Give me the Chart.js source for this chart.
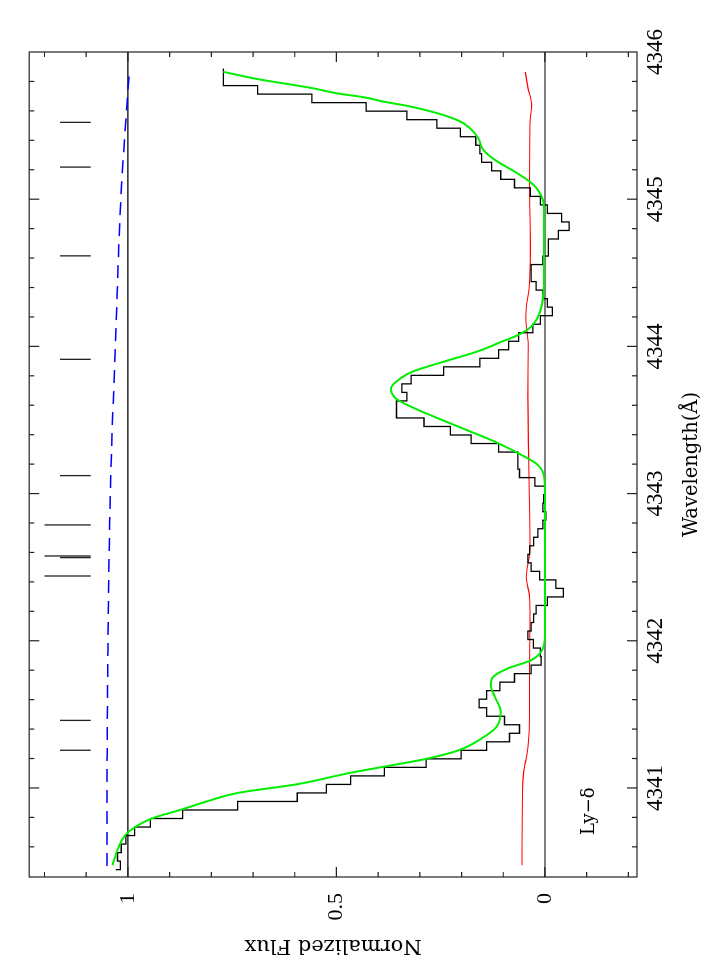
<!DOCTYPE html>
<html>
<head>
<meta charset="utf-8">
<script src="https://cdn.jsdelivr.net/npm/chart.js@4"></script>
<style>
html, body { margin: 0; padding: 0; overflow: hidden; background: #fff; width: 713px; height: 969px; }
#wrap { position: absolute; left: 0; top: 0; width: 969px; height: 713px; transform-origin: 0 0; transform: translateY(969px) rotate(-90deg); }
</style>
</head>
<body>
<div id="wrap"><canvas id="grafico" width="969" height="713"></canvas></div>
<script>
// eixos
const xMin = 4340.395, xMax = 4346.0;
const yMin = -0.2207, yMax = 1.2367;
const xLabels = [4341, 4342, 4343, 4344, 4345, 4346];
const yLabels = [0, 0.5, 1];
const xMarcas = [4340.6, 4340.8, 4341, 4341.2, 4341.4, 4341.6, 4341.8, 4342, 4342.2, 4342.4, 4342.6, 4342.8, 4343,
    4343.2, 4343.4, 4343.6, 4343.8, 4344, 4344.2, 4344.4, 4344.6, 4344.8, 4345, 4345.2, 4345.4, 4345.6, 4345.8];
const yMarcas = [-0.2, -0.1, 0, 0.1, 0.2, 0.3, 0.4, 0.5, 0.6, 0.7, 0.8, 0.9, 1, 1.1, 1.2];
const xMaiores = [4341, 4342, 4343, 4344, 4345];
const yMaiores = [0, 0.5, 1];

// espectro (pixels de 0.0579 A a partir de 4340.445)
const binInicio = 4340.445, binLargura = 0.0579;
const fluxo = [
    1.029, 1.018, 1.025, 1.016, 1.005, 0.984, 0.946, 0.869, 0.737, 0.594,
    0.524, 0.466, 0.385, 0.285, 0.201, 0.140, 0.085, 0.061, 0.097, 0.140,
    0.158, 0.140, 0.108, 0.073, 0.033, 0.009, 0.011, 0.028, 0.041, 0.033,
    0.027, 0.021, -0.006, -0.044, -0.026, 0.013, 0.033, 0.041, 0.037, 0.027,
    0.017, 0.005, -0.002, 0.005, 0.003, 0.000, 0.024, 0.061, 0.065, 0.065,
    0.111, 0.177, 0.227, 0.290, 0.356, 0.356, 0.331, 0.343, 0.321, 0.243,
    0.156, 0.111, 0.087, 0.063, 0.029, 0.011, -0.018, -0.006, 0.005, 0.021,
    0.033, 0.033, 0.005, -0.008, -0.008, -0.032, -0.058, -0.040, -0.006, 0.011,
    0.035, 0.073, 0.106, 0.128, 0.152, 0.156, 0.166, 0.203, 0.259, 0.331,
    0.429, 0.559, 0.689, 0.771
];

// ajuste (verde)
const ajusteWl = [4340.475, 4340.599, 4340.701, 4340.792, 4340.853, 4340.910, 4340.966, 4341.025, 4341.102, 4341.143,
    4341.197, 4341.256, 4341.336, 4341.415, 4341.517, 4341.619, 4341.698, 4341.755, 4341.812, 4341.868,
    4341.948, 4342.05, 4342.5, 4343.0, 4343.114, 4343.194, 4343.239, 4343.341, 4343.477, 4343.586,
    4343.647, 4343.715, 4343.783, 4343.828, 4343.896, 4343.971, 4344.032, 4344.07, 4344.112, 4344.15,
    4344.225, 4344.383, 4344.542, 4344.837, 4344.939, 4345.063, 4345.120, 4345.188, 4345.267, 4345.335,
    4345.415, 4345.483, 4345.528, 4345.585, 4345.634, 4345.664, 4345.69, 4345.72, 4345.755, 4345.816,
    4345.865];
const ajusteFluxo = [1.037, 1.022, 0.999, 0.943, 0.872, 0.809, 0.737, 0.595, 0.468, 0.389,
    0.286, 0.207, 0.152, 0.116, 0.106, 0.120, 0.130, 0.124, 0.089, 0.033,
    0.005, 0.000, 0.000, 0.000, 0.002, 0.017, 0.041, 0.111, 0.227, 0.318,
    0.358, 0.369, 0.346, 0.318, 0.243, 0.156, 0.104, 0.070, 0.043, 0.028,
    0.013, 0.003, 0.002, 0.002, 0.002, 0.017, 0.037, 0.073, 0.120, 0.148,
    0.160, 0.180, 0.203, 0.259, 0.330, 0.389, 0.429, 0.500, 0.559, 0.689,
    0.771];

// erro (vermelho)
const erroWl = [4340.475, 4341.052, 4341.143, 4341.2, 4341.3, 4341.483, 4341.82, 4342.14, 4342.298, 4342.434,
    4342.616, 4343.205, 4343.658, 4344.0, 4344.202, 4344.429, 4344.655, 4345.109, 4345.517, 4345.641,
    4345.76, 4345.865];
const erroFluxo = [0.055, 0.053, 0.049, 0.045, 0.040, 0.037, 0.037, 0.036, 0.037, 0.045,
    0.036, 0.039, 0.041, 0.040, 0.046, 0.037, 0.035, 0.037, 0.036, 0.032,
    0.041, 0.047];

// continuo (azul tracejado)
const continuoWl = [4340.47, 4341.0, 4341.94, 4342.6, 4343.32, 4344.0, 4345.0, 4345.86];
const continuoFluxo = [1.050, 1.050, 1.048, 1.045, 1.039, 1.030, 1.017, 0.997];

// componentes
const compWl = [4341.256, 4341.459, 4342.440, 4342.565, 4342.576, 4342.787, 4343.122, 4343.912, 4344.615, 4345.218, 4345.522];
const compTopo = [1.163, 1.163, 1.200, 1.163, 1.200, 1.200, 1.163, 1.163, 1.163, 1.163, 1.163];
const compBase = 1.089;

function pares(xs, ys) {
    return xs.map((v, i) => ({ x: v, y: ys[i] }));
}

const histPontos = fluxo.map((f, i) => ({ x: binInicio + i * binLargura, y: f }));
histPontos.push({ x: binInicio + fluxo.length * binLargura, y: fluxo[fluxo.length - 1] });

const compPontos = [];
compWl.forEach((w, i) => {
    compPontos.push({ x: w, y: compBase }, { x: w, y: compTopo[i] }, { x: w, y: null });
});

const marcasPlugin = {
    id: 'marcas',
    afterDatasetsDraw(chart) {
        const { ctx, chartArea: a, scales: { x, y } } = chart;
        ctx.save();
        ctx.strokeStyle = '#222';
        ctx.lineWidth = 1.2;
        ctx.strokeRect(a.left, a.top, a.right - a.left, a.bottom - a.top);
        ctx.beginPath();
        xMarcas.forEach(v => {
            const len = xMaiores.includes(v) ? 10 : 5;
            const px = x.getPixelForValue(v);
            ctx.moveTo(px, a.bottom); ctx.lineTo(px, a.bottom - len);
            ctx.moveTo(px, a.top); ctx.lineTo(px, a.top + len);
        });
        yMarcas.forEach(v => {
            const len = yMaiores.includes(v) ? 10 : 5;
            const py = y.getPixelForValue(v);
            ctx.moveTo(a.left, py); ctx.lineTo(a.left + len, py);
            ctx.moveTo(a.right, py); ctx.lineTo(a.right - len, py);
        });
        ctx.stroke();
        ctx.fillStyle = '#000';
        ctx.font = '18px "DejaVu Serif"';
        ctx.textBaseline = 'alphabetic';
        ctx.fillText('Ly\u2212\u03b4', x.getPixelForValue(4340.68), y.getPixelForValue(-0.117));
        ctx.restore();
    }
};

new Chart(document.getElementById('grafico'), {
    type: 'line',
    data: {
        datasets: [
            { data: pares(ajusteWl, ajusteFluxo), borderColor: '#00ee00', borderWidth: 2, cubicInterpolationMode: 'monotone' },
            { data: histPontos, borderColor: '#000', borderWidth: 1.3, stepped: 'after' },
            { data: pares(erroWl, erroFluxo), borderColor: '#ff0000', borderWidth: 1.1, cubicInterpolationMode: 'monotone' },
            { data: pares(continuoWl, continuoFluxo), borderColor: '#0000ff', borderWidth: 1.5, borderDash: [13, 8], cubicInterpolationMode: 'monotone' },
            { data: [{ x: xMin, y: 1 }, { x: xMax, y: 1 }], borderColor: '#000', borderWidth: 1.1 },
            { data: [{ x: xMin, y: 0 }, { x: xMax, y: 0 }], borderColor: '#000', borderWidth: 1.1 },
            { data: compPontos, borderColor: '#222', borderWidth: 1.3 }
        ]
    },
    options: {
        responsive: false,
        animation: false,
        devicePixelRatio: 1,
        layout: { padding: { top: 23, right: 52, left: 0, bottom: 0 } },
        plugins: { legend: { display: false }, tooltip: { enabled: false } },
        elements: { point: { radius: 0 } },
        scales: {
            x: {
                type: 'linear', min: xMin, max: xMax,
                grid: { display: false, drawTicks: false },
                border: { display: false },
                afterBuildTicks: s => { s.ticks = xLabels.map(v => ({ value: v })); },
                afterFit: s => { s.height = 76; },
                ticks: { padding: 5, color: '#000', font: { family: 'Liberation Serif', size: 23 }, callback: v => String(v) },
                title: { display: true, text: 'Wavelength(Å)', color: '#000', font: { family: 'DejaVu Serif', size: 19.5 }, padding: { top: 0, bottom: 9 } }
            },
            y: {
                type: 'linear', min: yMin, max: yMax,
                grid: { display: false, drawTicks: false },
                border: { display: false },
                afterBuildTicks: s => { s.ticks = yLabels.map(v => ({ value: v })); },
                afterFit: s => { s.width = 92; },
                ticks: { padding: 16, color: '#000', font: { family: 'Liberation Serif', size: 22 }, callback: v => String(v) },
                title: { display: true, text: 'Normalized Flux', color: '#000', font: { family: 'DejaVu Serif', size: 21 }, padding: { top: 11, bottom: 0 } }
            }
        }
    },
    plugins: [marcasPlugin]
});
</script>
</body>
</html>
